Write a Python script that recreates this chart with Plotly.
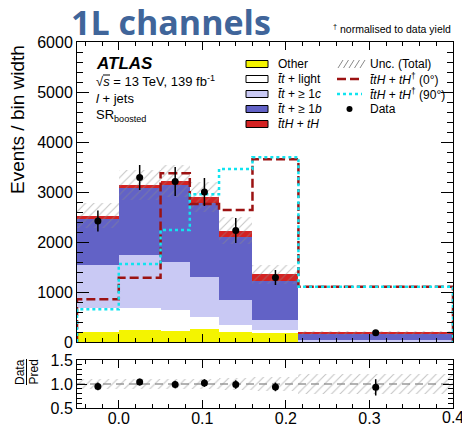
import plotly.graph_objects as go
import numpy as np

# ---------------- data ----------------
bin_edges = [-0.05, 0.0, 0.05, 0.085, 0.12, 0.16, 0.215, 0.4]
other = [200, 240, 220, 270, 200, 190, 5]
tt_light = [480, 433, 420, 237, 140, 50, 10]
tt_1c = [860, 1067, 967, 800, 500, 200, 25]
tt_1b = [930, 1333, 1533, 1466, 1253, 780, 135]
tth = [60, 67, 87, 134, 134, 133, 15]
unc_total = [250, 300, 320, 300, 270, 190, 40]
data = [2420, 3290, 3210, 3000, 2230, 1290, 185]
data_err = [210, 250, 290, 280, 250, 150, 25]
cp0 = [853, 1287, 3373, 2760, 2640, 3653, 1107]
cp90 = [653, 1560, 2240, 2953, 3460, 3693, 1107]
ratio = [0.95, 1.04, 0.99, 1.02, 0.99, 0.94, 0.93]
ratio_err = [0.08, 0.07, 0.08, 0.08, 0.09, 0.09, 0.17]
x_ticks = [0.0, 0.1, 0.2, 0.3, 0.4]
x_tick_labels = ["0.0", "0.1", "0.2", "0.3", "0.4"]

W, H = 462, 426
FONT = "Liberation Sans"

edges = np.array(bin_edges)
centers = (edges[:-1] + edges[1:]) / 2
widths = edges[1:] - edges[:-1]

components = [
    ("Other", other, "#f4f400"),
    ("tt+light", tt_light, "#ffffff"),
    ("tt+>=1c", tt_1c, "#c9c9f4"),
    ("tt+>=1b", tt_1b, "#6262c6"),
    ("ttH+tH", tth, "#d42222"),
]

fig = go.Figure()
base = np.zeros(len(centers))
for name, vals, col in components:
    v = np.array(vals, dtype=float)
    fig.add_trace(go.Bar(x=centers, y=v, base=base.copy(), width=widths,
                         marker=dict(color=col, line=dict(width=0)),
                         xaxis="x", yaxis="y", showlegend=False))
    base = base + v
total = base
unc = np.array(unc_total, dtype=float)

hatch = dict(shape="/", fgcolor="#8a8a8a", bgcolor="rgba(0,0,0,0)", size=6, solidity=0.18)
fig.add_trace(go.Bar(x=centers, y=2 * unc, base=total - unc, width=widths,
                     marker=dict(color="rgba(0,0,0,0)", line=dict(width=0), pattern=hatch),
                     xaxis="x", yaxis="y", showlegend=False))


def step(vals):
    xs = [edges[0]]
    ys = [0]
    for i, v in enumerate(vals):
        xs += [edges[i], edges[i + 1]]
        ys += [v, v]
    xs.append(edges[-1])
    ys.append(0)
    return xs, ys


x0, y0 = step(cp0)
fig.add_trace(go.Scatter(x=x0, y=y0, mode="lines",
                         line=dict(color="#9c1212", width=2.5, dash="9px,4px"),
                         xaxis="x", yaxis="y", showlegend=False))
x9, y9 = step(cp90)
fig.add_trace(go.Scatter(x=x9, y=y9, mode="lines",
                         line=dict(color="#10e4f0", width=2.5, dash="3px,3px"),
                         xaxis="x", yaxis="y", showlegend=False))

fig.add_trace(go.Scatter(x=centers, y=data, mode="markers",
                         marker=dict(color="black", size=7),
                         error_y=dict(type="data", array=data_err, color="black", thickness=1.5, width=0),
                         xaxis="x", yaxis="y", showlegend=False))

# ratio panel
rel = unc / total
fig.add_trace(go.Bar(x=centers, y=2 * rel, base=1 - rel, width=widths,
                     marker=dict(color="rgba(0,0,0,0)", line=dict(width=0), pattern=hatch),
                     xaxis="x2", yaxis="y2", showlegend=False))
fig.add_trace(go.Scatter(x=centers, y=ratio, mode="markers",
                         marker=dict(color="black", size=7),
                         error_y=dict(type="data", array=ratio_err, color="black", thickness=1.5, width=0),
                         xaxis="x2", yaxis="y2", showlegend=False))


def px(x):
    return x / W


def py(y):
    return 1 - y / H


xl, xr = px(77), px(453)
common = dict(showline=True, linecolor="black", linewidth=1, mirror="allticks",
              ticks="inside", showgrid=False, zeroline=False, automargin=False,
              tickfont=dict(family=FONT, size=16, color="black"))

# last tick label sits on the figure edge; draw it as an annotation at the axis value
shown_labels = x_tick_labels[:-1] + [""]

fig.update_layout(
    width=W, height=H, autosize=False,
    margin=dict(l=0, r=0, t=0, b=0),
    paper_bgcolor="white", plot_bgcolor="white",
    barmode="overlay", bargap=0,
    font=dict(family=FONT, color="black"),
    xaxis=dict(domain=[xl, xr], range=[edges[0], edges[-1]], anchor="y",
               showticklabels=False, tickmode="array", tickvals=x_ticks, ticklen=8, tickcolor="black",
               minor=dict(ticks="inside", dtick=0.02, tick0=0, ticklen=4, tickcolor="black"), **common),
    yaxis=dict(domain=[py(342), py(42)], range=[0, 6000], anchor="x",
               dtick=1000, ticklen=12, tickcolor="black",
               minor=dict(ticks="inside", dtick=200, ticklen=6, tickcolor="black"), **common),
    xaxis2=dict(domain=[xl, xr], range=[edges[0], edges[-1]], anchor="y2", matches="x",
                tickmode="array", tickvals=x_ticks, ticktext=shown_labels, ticklen=8, tickcolor="black",
                ticklabelstandoff=-4,
                minor=dict(ticks="inside", dtick=0.02, tick0=0, ticklen=4, tickcolor="black"), **common),
    yaxis2=dict(domain=[py(408), py(360)], range=[0.5, 1.5], anchor="x2",
                tick0=0.5, dtick=0.5, tickformat=".1f", ticklen=10, tickcolor="black",
                minor=dict(ticks="inside", dtick=0.1, ticklen=5, tickcolor="black"), **common),
)

# ratio line at 1
fig.add_shape(type="line", xref="x2", yref="y2", x0=edges[0], x1=edges[-1], y0=1, y1=1,
              line=dict(color="#9a9a9a", width=1.5, dash="8px,5px"), layer="below")

ann = []


def text(t, x, y, size, xanchor="left", yanchor="middle", color="black", family=FONT, angle=0):
    ann.append(dict(text=t, x=px(x), y=py(y), xref="paper", yref="paper", showarrow=False,
                    xanchor=xanchor, yanchor=yanchor, textangle=angle,
                    font=dict(family=family, size=size, color=color)))


ann.append(dict(text=x_tick_labels[-1], x=x_ticks[-1], xref="x2", y=py(417), yref="paper",
                showarrow=False, xanchor="center", yanchor="middle",
                font=dict(family=FONT, size=16, color="black")))

text("<b>1L channels</b>", 69, 22, 34, color="#40659a", family="Open Sans")
text("<sup>†</sup> normalised to data yield", 453, 28, 10.5, xanchor="right")
text("Events / bin width", 17, 120, 19, xanchor="center", angle=-90)
text("Data", 20, 372, 12, xanchor="center", angle=-90)
text("Pred", 33.5, 372, 12, xanchor="center", angle=-90)
fig.add_shape(type="line", xref="paper", yref="paper", x0=px(26.5), x1=px(26.5), y0=py(359), y1=py(385),
              line=dict(color="black", width=1))

text("<b><i>ATLAS</i></b>", 94, 63, 17)
text("√<i>s</i> = 13 TeV, 139 fb<sup>-1</sup>", 94, 81, 13)
fig.add_shape(type="line", xref="paper", yref="paper", x0=px(103), x1=px(110), y0=py(75), y1=py(75),
              line=dict(color="black", width=1))
text("<i>l</i> + jets", 94, 98, 13)
text("SR<sub>boosted</sub>", 94, 116, 13)

# legend column 1
leg1 = [("Other", "#f4f400"),
        ("<i>t̄t</i> + light", "#ffffff"),
        ("<i>t̄t</i> + ≥ 1<i>c</i>", "#c9c9f4"),
        ("<i>t̄t</i> + ≥ 1<i>b</i>", "#6262c6"),
        ("<i>t̄tH</i> + <i>tH</i>", "#d42222")]
rows = [64, 79, 94, 109, 124]
for (lab, col), ry in zip(leg1, rows):
    fig.add_shape(type="rect", xref="paper", yref="paper", x0=px(246), x1=px(268),
                  y0=py(ry + 3.5), y1=py(ry - 3.5), fillcolor=col, line=dict(color="black", width=1))
    text(lab, 276, ry, 12)

# legend column 2
for k in range(5):
    xa = 338 + k * 5.5
    fig.add_shape(type="line", xref="paper", yref="paper", x0=px(xa), x1=px(xa + 5),
                  y0=py(rows[0] + 4), y1=py(rows[0] - 4), line=dict(color="#8a8a8a", width=1))
text("Unc. (Total)", 368, rows[0], 12)
fig.add_shape(type="line", xref="paper", yref="paper", x0=px(337), x1=px(362), y0=py(rows[1]), y1=py(rows[1]),
              line=dict(color="#9c1212", width=2.5, dash="9px,4px"))
text("<i>t̄tH</i> + <i>tH</i><sup>†</sup> (0°)", 368, rows[1], 12)
fig.add_shape(type="line", xref="paper", yref="paper", x0=px(337), x1=px(362), y0=py(rows[2]), y1=py(rows[2]),
              line=dict(color="#10e4f0", width=2.5, dash="3px,3px"))
text("<i>t̄tH</i> + <i>tH</i><sup>†</sup> (90°)", 368, rows[2], 12)
fig.add_shape(type="circle", xref="paper", yref="paper", x0=px(346.5), x1=px(352.5),
              y0=py(rows[3] + 3), y1=py(rows[3] - 3), fillcolor="black", line=dict(color="black", width=0))
text("Data", 368, rows[3], 12)

fig.update_layout(annotations=ann)
fig.write_html("out.html")
